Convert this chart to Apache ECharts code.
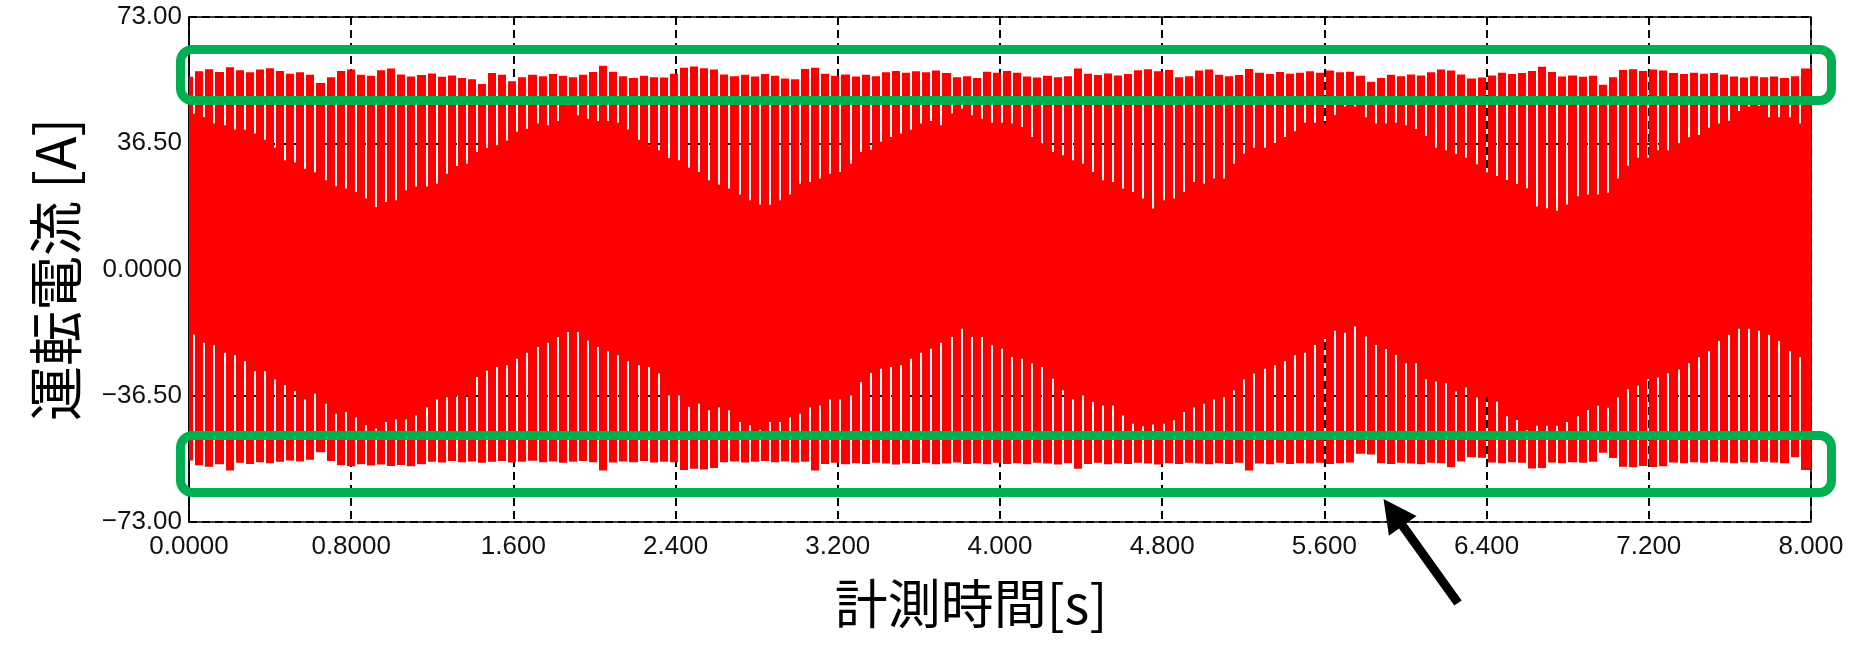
<!DOCTYPE html>
<html><head><meta charset="utf-8">
<script src="https://cdn.jsdelivr.net/npm/echarts@6/dist/echarts.min.js"></script>
<style>html,body{margin:0;padding:0;background:#fff}#c{width:1850px;height:671px}</style>
</head><body><div id="c"></div><script>
// ---- tick labels ----
const xTickLabels = ['0.0000','0.8000','1.600','2.400','3.200','4.000','4.800','5.600','6.400','7.200','8.000'];
const yTickLabels = ['\u221273.00','\u221236.50','0.0000','36.50','73.00'];

// ---- waveform description ----
// notches (white gaps) of the beating current waveform occur at a regular period
const NOTCH_T0 = 0.026;   // time of first notch [s]
const NOTCH_DT = 0.0498;  // notch period [s]
const T_END = 8.0;

// lowest value reached by each upper white notch [A]
const upperGapEnd = [
 45.0,44.1,42.2,41.7,40.4,40.4,39.3,37.5,35.2,31.6,
 30.9,29.1,28.1,25.8,24.1,23.4,22.4,20.5,18.1,19.5,
 20.0,22.9,24.0,24.0,24.8,27.7,29.9,30.6,34.0,35.1,
 35.9,37.3,39.8,40.7,42.2,41.7,42.9,47.5,44.6,43.6,
 42.9,42.9,42.4,40.5,37.5,35.9,34.5,32.2,31.6,29.4,
 28.2,25.8,24.6,23.4,21.7,20.0,18.8,18.7,20.0,21.7,
 24.8,25.3,26.3,27.7,28.2,30.6,34.0,34.6,36.9,38.3,
 39.3,40.4,42.2,42.9,41.7,45.1,46.5,44.6,43.6,42.4,
 42.4,42.2,41.2,38.3,36.4,34.0,33.0,31.6,30.6,28.2,
 25.8,25.3,23.4,22.4,20.5,17.6,20.0,20.5,22.4,25.3,
 24.8,26.3,26.3,30.6,33.5,35.2,35.2,36.6,38.3,40.0,
 42.4,42.4,42.2,44.7,47.1,47.1,44.0,42.2,42.2,42.4,
 41.7,40.6,38.6,35.2,34.5,33.4,32.3,30.4,28.1,27.0,
 25.9,24.7,23.5,18.2,17.7,17.0,18.8,21.2,21.7,21.7,
 22.2,26.3,30.0,32.3,32.3,34.5,34.5,36.5,38.2,38.9,
 41.0,42.2,43.0,45.8,47.1,47.3,44.0,44.0,44.0,42.2];

// highest value reached by each lower white notch [A]
const lowerGapEnd = [
 -18.8,-21.2,-21.9,-24.1,-24.8,-26.5,-29.4,-29.4,-31.8,-33.5,
 -35.2,-37.6,-35.9,-38.8,-41.7,-41.2,-42.8,-45.0,-46.0,-44.1,
 -43.4,-43.4,-42.2,-39.9,-37.6,-36.9,-36.4,-36.4,-31.1,-29.3,
 -28.2,-27.7,-25.8,-24.1,-22.4,-21.2,-19.5,-18.1,-18.1,-20.5,
 -22.4,-23.6,-24.8,-26.5,-27.7,-28.2,-30.1,-36.4,-36.4,-39.7,
 -38.8,-40.7,-39.9,-40.7,-44.1,-45.0,-46.3,-44.1,-44.1,-42.8,
 -41.7,-39.9,-39.3,-37.6,-37.6,-36.4,-32.5,-29.9,-28.7,-28.2,
 -27.7,-25.8,-24.1,-22.9,-21.2,-19.5,-17.1,-19.5,-19.5,-21.9,
 -22.9,-25.3,-25.8,-27.2,-28.2,-31.6,-34.9,-37.6,-36.4,-38.3,
 -39.3,-39.3,-42.2,-44.6,-45.3,-44.8,-44.6,-43.6,-41.2,-39.9,
 -38.8,-37.6,-36.9,-34.9,-31.8,-30.1,-28.7,-27.7,-26.5,-24.8,
 -24.1,-21.8,-20.1,-17.7,-18.3,-16.5,-19.4,-21.8,-23.0,-24.7,
 -27.1,-27.1,-31.7,-32.4,-32.9,-35.3,-34.1,-37.0,-37.0,-38.2,
 -42.4,-43.5,-46.4,-45.2,-45.2,-45.2,-44.1,-42.4,-40.6,-39.4,
 -40.0,-37.0,-34.6,-33.6,-31.7,-31.2,-30.0,-28.9,-27.1,-25.4,
 -23.6,-20.7,-18.9,-17.1,-17.1,-17.7,-18.9,-20.7,-23.6,-25.4];

// positive peak envelope after each notch [A]
const upperEnvelope = [
 57.3,57.9,57.1,58.5,57.6,57.0,57.8,58.2,57.4,56.6,
 57.0,56.3,53.9,55.6,57.4,57.8,56.3,56.0,57.6,58.1,
 56.4,55.8,56.2,56.7,55.7,56.1,55.4,55.0,53.6,56.8,
 56.3,54.4,55.6,56.3,55.9,56.5,56.0,55.6,56.3,57.1,
 58.9,57.2,55.9,55.4,56.0,55.6,55.5,56.6,58.3,58.7,
 58.2,57.8,56.4,55.9,56.3,55.8,56.5,56.0,55.2,55.0,
 58.0,58.3,56.6,56.0,56.4,55.8,56.3,55.9,57.0,57.4,
 56.9,57.3,57.0,57.5,56.8,55.6,55.9,55.4,57.2,56.9,
 57.4,56.9,55.8,55.5,56.0,55.6,55.9,58.1,56.6,56.2,
 56.7,56.1,56.5,57.6,57.9,57.3,57.7,55.6,55.9,57.5,
 57.8,56.3,55.9,56.2,58.0,56.9,56.5,57.1,56.6,56.9,
 57.3,56.9,57.5,57.0,57.2,56.0,54.3,55.4,56.3,55.9,
 56.4,56.1,57.0,57.8,57.5,56.4,55.2,55.5,56.1,56.9,
 56.5,56.8,57.4,58.6,57.1,55.8,56.1,55.7,56.0,53.4,
 55.6,57.7,57.9,57.4,57.8,57.5,56.8,56.5,56.9,56.6,
 56.8,56.4,55.8,55.5,55.9,55.6,55.8,55.4,55.9,58.1];

// negative peak envelope after each notch [A]
const lowerEnvelope = [
 -56.6,-57.0,-56.3,-58.1,-55.9,-56.2,-55.7,-56.0,-55.6,-55.2,
 -55.5,-55.0,-52.8,-55.4,-56.6,-56.9,-56.3,-56.7,-56.4,-56.8,
 -56.5,-56.9,-56.3,-55.6,-55.8,-55.4,-55.7,-55.5,-55.9,-55.6,
 -55.4,-55.8,-55.6,-55.3,-55.7,-55.5,-55.9,-55.6,-55.4,-55.7,
 -58.1,-55.8,-55.5,-55.7,-55.4,-55.8,-55.6,-55.7,-58.0,-57.6,
 -57.8,-57.4,-55.7,-55.5,-55.8,-55.6,-55.4,-55.7,-55.5,-55.8,
 -55.6,-58.1,-56.2,-55.9,-56.3,-56.0,-56.2,-55.9,-56.1,-56.4,
 -56.0,-56.2,-55.9,-56.3,-56.1,-55.8,-56.2,-56.0,-56.3,-55.9,
 -56.2,-56.0,-56.3,-55.9,-56.1,-56.4,-56.0,-57.6,-56.2,-55.9,
 -56.3,-56.0,-56.2,-55.9,-56.1,-56.4,-56.0,-56.2,-55.9,-56.1,
 -56.3,-56.0,-56.2,-55.9,-58.1,-56.1,-56.3,-55.9,-56.2,-56.0,
 -56.1,-55.9,-56.2,-56.0,-55.8,-53.3,-53.5,-56.0,-56.2,-55.9,
 -56.1,-56.3,-55.9,-56.0,-57.2,-55.5,-54.3,-54.4,-55.8,-56.0,
 -55.7,-55.9,-57.5,-57.4,-55.8,-56.0,-55.7,-55.9,-55.6,-53.0,
 -54.5,-57.0,-57.2,-56.8,-57.1,-56.9,-55.8,-56.0,-55.7,-55.9,
 -55.6,-55.8,-56.0,-55.7,-55.9,-55.6,-55.8,-56.0,-54.3,-58.0];

// envelope before the first notch [A]
const leadEnvelope = [55.7, -55.2];

// ---- build data table ----
const N = upperGapEnd.length;
const waveData = [];
for (let i = 0; i < N; i++) {
  const t = NOTCH_T0 + i * NOTCH_DT;
  const last = (i === N - 1);
  const tn = last ? T_END : NOTCH_T0 + (i + 1) * NOTCH_DT;
  waveData.push([t, tn, upperEnvelope[i], lowerEnvelope[i], upperGapEnd[i], lowerGapEnd[i], last ? 1 : 0]);
}

const GAP_W = 2;
const RED = '#FF0000';

function renderWave(params, api) {
  const t = api.value(0), tn = api.value(1);
  const uE = api.value(2), lE = api.value(3), uG = api.value(4), lG = api.value(5);
  const last = api.value(6) === 1;
  const cx = Math.round(api.coord([t, 0])[0]);
  const nx = Math.round(api.coord([tn, 0])[0]);
  const y = v => api.coord([t, v])[1];
  const half = GAP_W / 2;
  const children = [];
  // red body inside the notch column
  children.push({type: 'rect', shape: {x: cx - half, y: y(uG), width: GAP_W, height: y(lG) - y(uG)}, style: {fill: RED}});
  // full red span until next notch
  const x0 = cx + half, x1 = last ? nx : nx - half;
  children.push({type: 'rect', shape: {x: x0, y: y(uE), width: x1 - x0, height: y(lE) - y(uE)}, style: {fill: RED}});
  if (params.dataIndex === 0) {
    const sx = Math.round(api.coord([0, 0])[0]);
    children.push({type: 'rect', shape: {x: sx, y: y(leadEnvelope[0]), width: cx - half - sx, height: y(leadEnvelope[1]) - y(leadEnvelope[0])}, style: {fill: RED}});
  }
  return {type: 'group', children};
}

// ---- annotation geometry (pixels) ----
const GREEN = '#00B050';
const arrowPts = [[1383.5,499],[1416.5,515.9],[1406.4,523.2],[1461.7,600.4],[1454.3,605.6],[1399.0,528.4],[1388.9,535.7]];

const chart = echarts.init(document.getElementById('c'), null, {renderer: 'canvas'});
chart.setOption({
  animation: false,
  backgroundColor: '#fff',
  grid: {left: 189, right: 39, top: 17, bottom: 149, show: true, borderColor: '#000', borderWidth: 1.5, backgroundColor: 'transparent'},
  xAxis: {
    type: 'value', min: 0, max: 8, interval: 0.8,
    axisLine: {show: true, lineStyle: {color: '#000', width: 1.5}},
    axisTick: {show: false},
    axisLabel: {
      formatter: v => xTickLabels[Math.round(v / 0.8)],
      fontSize: 26, color: '#111', margin: 12, fontFamily: 'Liberation Sans',
      showMinLabel: true, showMaxLabel: true
    },
    splitLine: {show: true, lineStyle: {color: '#000', type: [8, 5], width: 2}},
    name: '計測時間[s]', nameLocation: 'middle', nameGap: 55,
    nameTextStyle: {fontSize: 53, color: '#000', fontFamily: 'Noto Sans CJK JP', padding: [0, 58, 0, 0]}
  },
  yAxis: {
    type: 'value', min: -73, max: 73, interval: 36.5,
    axisLine: {show: true, lineStyle: {color: '#000', width: 1.5}},
    axisTick: {show: false},
    axisLabel: {
      formatter: v => yTickLabels[Math.round((v + 73) / 36.5)],
      fontSize: 26, color: '#111', margin: 7, fontFamily: 'Liberation Sans',
      showMinLabel: true, showMaxLabel: true
    },
    splitLine: {show: true, lineStyle: {color: '#000', type: [8, 5], width: 2}},
    name: '運転電流 [A]', nameLocation: 'middle', nameGap: 106, nameRotate: 90,
    nameTextStyle: {fontSize: 55, color: '#000', fontFamily: 'Noto Sans CJK JP'}
  },
  series: [{
    type: 'custom', clip: true, silent: true,
    renderItem: renderWave,
    encode: {x: 0, y: 2},
    data: waveData
  }],
  graphic: [
    {type: 'rect', z: 100, shape: {x: 180.5, y: 49.5, width: 1651, height: 51, r: 12}, style: {fill: 'none', stroke: GREEN, lineWidth: 9}},
    {type: 'rect', z: 100, shape: {x: 180.5, y: 435.5, width: 1651, height: 57, r: 12}, style: {fill: 'none', stroke: GREEN, lineWidth: 9}},
    {type: 'polygon', z: 100, shape: {points: arrowPts}, style: {fill: '#000'}}
  ]
});
</script></body></html>
